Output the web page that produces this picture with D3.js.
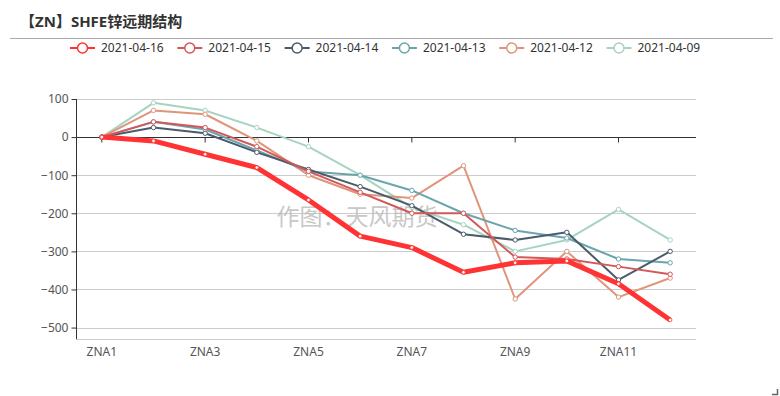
<!DOCTYPE html>
<html>
<head>
<meta charset="utf-8">
<script src="https://cdn.jsdelivr.net/npm/d3@7"></script>
<style>
  body { margin: 0; background: #fff; }
  text { font-family: "Noto Sans", "Noto Sans CJK SC", sans-serif; }
</style>
</head>
<body>
<div class="container"></div>
<script>
const categories = ["ZNA1","ZNA2","ZNA3","ZNA4","ZNA5","ZNA6","ZNA7","ZNA8","ZNA9","ZNA10","ZNA11","ZNA12"];
const seriesNames = ["2021-04-16","2021-04-15","2021-04-14","2021-04-13","2021-04-12","2021-04-09"];
const s0416 = [0, -10, -45, -80, -165, -260, -290, -355, -330, -325, -385, -480];
const s0415 = [0, 40, 25, -25, -90, -145, -200, -200, -315, -320, -340, -360];
const s0414 = [0, 25, 10, -40, -85, -130, -180, -255, -270, -250, -375, -300];
const s0413 = [0, 40, 20, -35, -90, -100, -140, -200, -245, -265, -320, -330];
const s0412 = [0, 70, 60, -10, -100, -150, -160, -75, -425, -300, -420, -370];
const s0409 = [0, 90, 70, 25, -25, -100, -185, -230, -300, -270, -190, -270];
const yTicks = [100, 0, -100, -200, -300, -400, -500];

const colors = ["#ff3333", "#d4575a", "#4c5b6b", "#6aa5ae", "#e0957a", "#a6d4c0"];
const widths = [5, 2, 2, 2, 2, 2];
const allSeries = [s0416, s0415, s0414, s0413, s0412, s0409];

const width = 780, height = 396;
const margin = { left: 76, right: 84, top: 99, bottom: 57 };

const svg = d3.select(".container").append("svg")
  .attr("width", width).attr("height", height);

// title
svg.append("text")
  .attr("x", 20).attr("y", 27)
  .attr("font-size", 15).attr("font-weight", "bold").attr("fill", "#333")
  .text("【ZN】SHFE锌远期结构");
svg.append("line")
  .attr("x1", 10).attr("x2", 773).attr("y1", 38.5).attr("y2", 38.5)
  .attr("stroke", "#aaa").attr("stroke-width", 1);

//scale
const x = d3.scaleBand().domain(categories)
  .range([margin.left, width - margin.right]);
const y = d3.scaleLinear().domain([-530, 100])
  .range([height - margin.bottom, margin.top]);
const cx = (d) => x(d) + x.bandwidth() / 2;

// grid
svg.append("g").selectAll("line")
  .data(yTicks.filter((d) => d !== 0).concat([-530]))
  .join("line")
  .attr("x1", margin.left).attr("x2", width - margin.right)
  .attr("y1", (d) => Math.round(y(d)) + 0.5).attr("y2", (d) => Math.round(y(d)) + 0.5)
  .attr("stroke", "#ccc");

// y axis
const yAxis = svg.append("g")
  .attr("transform", `translate(${margin.left + 0.5},0)`)
  .call(d3.axisLeft(y).tickValues(yTicks).tickSize(5).tickPadding(3));
yAxis.select(".domain").attr("stroke", "#333").attr("d", `M0,${y(100)}V${y(-530)}`);
yAxis.selectAll(".tick line").attr("stroke", "#333");
yAxis.selectAll("text").attr("font-size", 12).attr("fill", "#555")
  .style("font-family", "'Noto Sans','Noto Sans CJK SC',sans-serif");

// x axis on zero
const xAxis = svg.append("g")
  .attr("transform", `translate(0,${Math.round(y(0)) + 0.5})`)
  .call(d3.axisBottom(x)
    .tickValues(categories.filter((d, i) => i % 2 === 0))
    .tickSize(5).tickFormat(""));
xAxis.select(".domain").attr("stroke", "#333")
  .attr("d", `M${margin.left},0H${width - margin.right}`);
xAxis.selectAll(".tick line").attr("stroke", "#333");

// x labels at bottom
svg.append("g").selectAll("text")
  .data(categories.filter((d, i) => i % 2 === 0))
  .join("text")
  .attr("x", (d) => cx(d)).attr("y", height - margin.bottom + 17)
  .attr("text-anchor", "middle").attr("font-size", 12).attr("fill", "#555")
  .text((d) => d);

// watermark
svg.append("text")
  .attr("x", 357).attr("y", 225)
  .attr("text-anchor", "middle").attr("font-size", 23).attr("fill", "#bbb")
  .attr("opacity", 0.8)
  .style("font-family", "'Noto Sans CJK SC',sans-serif")
  .text("作图：天风期货");

// lines, oldest first so 04-16 ends on top
const line = d3.line().x((d, i) => cx(categories[i])).y((d) => y(d));
d3.range(allSeries.length).reverse().forEach((k) => {
  const g = svg.append("g");
  g.append("path")
    .datum(allSeries[k])
    .attr("fill", "none")
    .attr("stroke", colors[k])
    .attr("stroke-width", widths[k])
    .attr("stroke-linejoin", "round")
    .attr("d", line);
  g.selectAll("circle")
    .data(allSeries[k])
    .join("circle")
    .attr("cx", (d, i) => cx(categories[i]))
    .attr("cy", (d) => y(d))
    .attr("r", k === 0 ? 1.8 : 2.2)
    .attr("fill", "#fff")
    .attr("stroke", colors[k])
    .attr("stroke-width", k === 0 ? 0.8 : 1);
});

// legend
const items = svg.append("g").selectAll("g")
  .data(seriesNames)
  .join("g")
  .attr("transform", (d, i) => `translate(${70 + i * 107.3},48)`);
items.append("line")
  .attr("x1", 0).attr("x2", 25).attr("y1", 0).attr("y2", 0)
  .attr("stroke", (d, i) => colors[i]).attr("stroke-width", 2);
items.append("circle")
  .attr("cx", 12.5).attr("cy", 0).attr("r", 5)
  .attr("fill", "#fff").attr("stroke", (d, i) => colors[i]).attr("stroke-width", 1.5);
items.append("text")
  .attr("x", 31).attr("y", 0).attr("dy", "0.35em")
  .attr("font-size", 12).attr("fill", "#333")
  .text((d) => d);

// resize corner mark
svg.append("path")
  .attr("d", "M772,394.5H777.5V389")
  .attr("fill", "none").attr("stroke", "#666").attr("stroke-width", 1.5);
</script>
</body>
</html>
